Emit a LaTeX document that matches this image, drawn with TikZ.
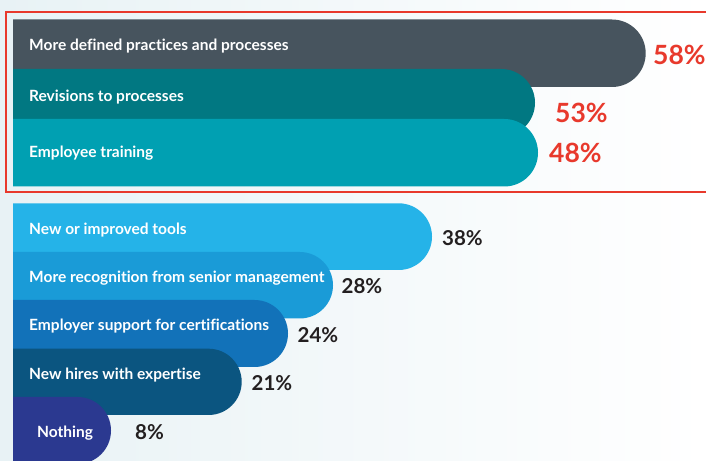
\documentclass[tikz,border=0pt]{standalone}
\usepackage{fontspec}
\setmainfont{Lato}[Ligatures={NoCommon}]
\definecolor{bgl}{HTML}{E8F2F5}
\definecolor{cA}{HTML}{47545E}
\definecolor{cB}{HTML}{017882}
\definecolor{cC}{HTML}{00A0B2}
\definecolor{cD}{HTML}{25B3E8}
\definecolor{cE}{HTML}{1A9BD7}
\definecolor{cF}{HTML}{1272B9}
\definecolor{cG}{HTML}{0B5580}
\definecolor{cH}{HTML}{2B3990}
\definecolor{redp}{HTML}{E8392C}
\definecolor{dark}{HTML}{231F20}
\tikzset{
  lbl/.style={anchor=west, inner sep=0pt, text=white, font=\bfseries\fontsize{15.5}{17}\selectfont},
  pctred/.style={anchor=west, inner sep=0pt, text=redp, font=\bfseries\fontsize{26.5}{29}\selectfont},
  pctblk/.style={anchor=west, inner sep=0pt, text=dark, font=\bfseries\fontsize{20.5}{24}\selectfont},
}
% bar: color, right x, top y (image), bottom y (image)
\newcommand{\pillbar}[4]{%
  \pgfmathsetmacro{\rr}{(#4-#3)/2}%
  \pgfmathsetmacro{\yt}{460-#3}%
  \pgfmathsetmacro{\yb}{460-#4}%
  \pgfmathsetmacro{\xs}{#2-\rr}%
  \fill[#1] (13,\yt) -- (\xs,\yt) arc[start angle=90,end angle=-90,radius=\rr] -- (13,\yb) -- cycle;}
\begin{document}
\begin{tikzpicture}[x=1pt,y=1pt]
\useasboundingbox (0,0) rectangle (706,460);
\clip (0,0) rectangle (706,460);
\shade[left color=bgl, right color=white] (0,0) rectangle (706,460);
% red highlight box
\draw[redp, line width=2pt] (5.5,448) rectangle (712,268);
% bars
\pillbar{cA}{645.7}{19.5}{87}
\pillbar{cB}{535}{69}{136.5}
\pillbar{cC}{538}{119}{186.5}
\pillbar{cD}{432}{203.3}{270}
\pillbar{cE}{333}{252}{318.5}
\pillbar{cF}{288}{300}{367}
\pillbar{cG}{241.7}{348.7}{415}
\pillbar{cH}{111}{397}{464}
% labels
\node[lbl] (l1) at (29,460-46.5) {More defined practices and processes};
\node[lbl] (l2) at (29,460-97.5) {Revisions to processes};
\node[lbl] (l3) at (29,460-153) {Employee training};
\node[lbl] (l4) at (29,460-230) {New or improved tools};
\node[lbl] (l5) at (29,460-278) {More recognition from senior management};
\node[lbl] (l6) at (29,460-326.5) {Employer support for certifications};
\node[lbl] (l7) at (29,460-375.5) {New hires with expertise};
\node[lbl] (l8) at (37,460-433) {Nothing};
% percentages
\node[pctred] (p1) at (653,460-54.5) {58\%};
\node[pctred] (p2) at (555,460-112.5) {53\%};
\node[pctred] (p3) at (549,460-153) {48\%};
\node[pctblk] (p4) at (442,460-238) {38\%};
\node[pctblk] (p5) at (341.5,460-286.5) {28\%};
\node[pctblk] (p6) at (297.5,460-335) {24\%};
\node[pctblk] (p7) at (251.5,460-383) {21\%};
\node[pctblk] (p8) at (135,460-432.5) {8\%};
\end{tikzpicture}
\end{document}
